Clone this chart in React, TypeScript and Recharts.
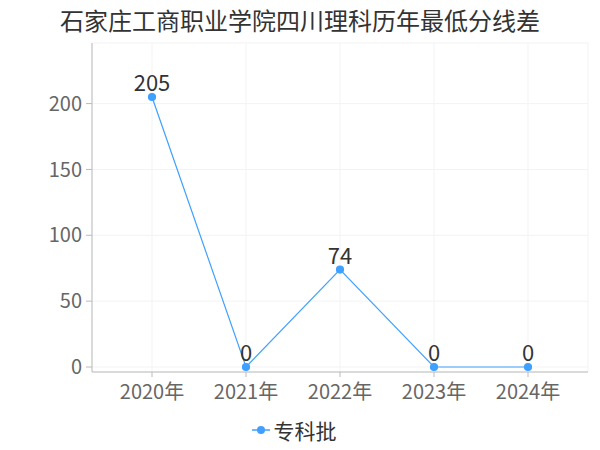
import React from "react"
import { CartesianGrid, LabelList, Legend, Line, LineChart, XAxis, YAxis } from "recharts"

const years = ["2020年", "2021年", "2022年", "2023年", "2024年"]
const values = [205, 0, 74, 0, 0]
const yTicks = [0, 50, 100, 150, 200]
const seriesName = "专科批"
const title = "石家庄工商职业学院四川理科历年最低分线差"

const data = years.map((year, i) => ({ year, value: values[i] }))

const FONT = '"Noto Sans CJK SC", "Noto Sans", sans-serif'
const BLUE = "#3fa0ff"

function LegendContent() {
  return (
    <div style={{ display: "flex", justifyContent: "center", alignItems: "center", fontFamily: FONT }}>
      <svg width={18} height={12} style={{ marginRight: 4 }}>
        <line x1={0} y1={6} x2={18} y2={6} stroke={BLUE} strokeWidth={1.5} />
        <circle cx={9} cy={6} r={4} fill={BLUE} />
      </svg>
      <span style={{ fontSize: 21, color: "#333" }}>{seriesName}</span>
    </div>
  )
}

export default function App() {
  return (
    <div style={{ position: "fixed", top: 0, left: 0, width: 600, height: 450, background: "#fff" }}>
      <div
        style={{
          position: "absolute",
          top: 2,
          left: 0,
          width: 600,
          textAlign: "center",
          fontFamily: FONT,
          fontSize: 24,
          color: "#333",
        }}
      >
        {title}
      </div>
      <LineChart width={600} height={450} data={data} margin={{ top: 43, right: 12, left: 0, bottom: 8 }}>
        <CartesianGrid stroke="#f3f3f3" />
        <XAxis
          dataKey="year"
          scale="point"
          padding={{ left: 60, right: 60 }}
          stroke="#bbbbbb"
          tick={{ fill: "#666", fontSize: 20, fontFamily: FONT }}
          tickSize={5}
          tickMargin={8}
          height={40}
        />
        <YAxis
          domain={[0, 246]}
          ticks={yTicks}
          padding={{ bottom: 5 }}
          width={92}
          stroke="#bbbbbb"
          tick={{ fill: "#666", fontSize: 20, fontFamily: FONT }}
          tickSize={6}
          tickMargin={4}
        />
        <Legend verticalAlign="bottom" content={<LegendContent />} wrapperStyle={{ bottom: 5 }} />
        <Line
          dataKey="value"
          name={seriesName}
          stroke={BLUE}
          strokeWidth={1.2}
          dot={{ r: 3.5, fill: BLUE, stroke: BLUE }}
          isAnimationActive={false}
        >
          <LabelList dataKey="value" position="top" offset={6} fill="#333" fontSize={22} fontFamily={FONT} />
        </Line>
      </LineChart>
    </div>
  )
}
